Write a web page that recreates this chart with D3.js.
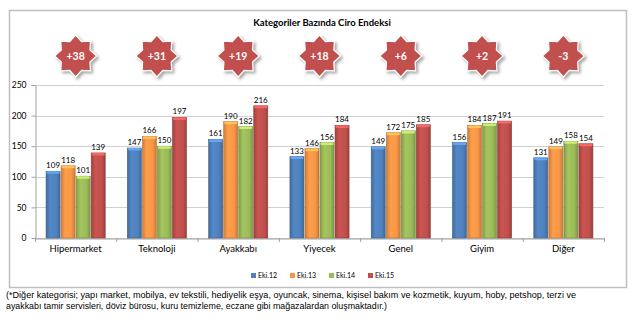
<!DOCTYPE html>
<html><head><meta charset="utf-8">
<script src="https://cdn.jsdelivr.net/npm/d3@7"></script>
<style>body{margin:0;background:#fff}svg{display:block}</style>
</head><body>
<svg id="c" width="640" height="322"></svg>
<script>
const categories = ["Hipermarket","Teknoloji","Ayakkabı","Yiyecek","Genel","Giyim","Diğer"];
const seriesNames = ["Eki.12","Eki.13","Eki.14","Eki.15"];
const eki12 = [109,147,161,133,149,156,131];
const eki13 = [118,166,190,146,172,184,149];
const eki14 = [101,150,182,156,175,187,158];
const eki15 = [139,197,216,184,185,191,154];
const changes = ["+38","+31","+19","+18","+6","+2","-3"];
const yTicks = [0,50,100,150,200,250];
const colors = ["#4f81bd","#f79646","#9bbb59","#c0504d"];
const title = "Kategoriler Bazında Ciro Endeksi";
const footnote = ["(*Diğer kategorisi; yapı market, mobilya, ev tekstili, hediyelik eşya, oyuncak, sinema, kişisel bakım ve kozmetik, kuyum, hoby, petshop, terzi ve",
                  "ayakkabı tamir servisleri, döviz bürosu, kuru temizleme, eczane gibi mağazalardan oluşmaktadır.)"];

const series = [eki12, eki13, eki14, eki15];
const svg = d3.select("#c");
const defs = svg.append("defs");

colors.forEach((c,i)=>{
  const g = defs.append("linearGradient").attr("id","g"+i).attr("x1","0").attr("x2","1").attr("y1","0").attr("y2","0");
  const base = d3.color(c);
  g.append("stop").attr("offset","0%").attr("stop-color", base.darker(0.5));
  g.append("stop").attr("offset","30%").attr("stop-color", base.brighter(0.15));
  g.append("stop").attr("offset","75%").attr("stop-color", base);
  g.append("stop").attr("offset","100%").attr("stop-color", base.darker(0.6));
});
const f = defs.append("filter").attr("id","glow").attr("x","-40%").attr("y","-40%").attr("width","180%").attr("height","180%");
f.append("feDropShadow").attr("dx",2).attr("dy",2).attr("stdDeviation",1.8).attr("flood-color","#888").attr("flood-opacity",0.75);

// frame
svg.append("rect").attr("x",9.5).attr("y",10.5).attr("width",617).attr("height",277)
  .attr("fill","#fff").attr("stroke","#bfbfbf").attr("stroke-width",1.5);

svg.append("text").attr("x",322).attr("y",26).attr("text-anchor","middle")
  .attr("font-family","Lato, 'Open Sans', sans-serif").attr("font-weight","bold").attr("font-size",9.5)
  .attr("fill","#000").text(title);

const x0 = d3.scaleBand().domain(categories).range([35,604]).paddingInner(0.26).paddingOuter(0.13);
const x1 = d3.scaleBand().domain(d3.range(4)).range([0,x0.bandwidth()]);
const y = d3.scaleLinear().domain([0,250]).range([238,85]);

// gridlines
svg.append("g").selectAll("line").data(yTicks).join("line")
  .attr("x1",35).attr("x2",604).attr("y1",d=>Math.round(y(d))+0.5).attr("y2",d=>Math.round(y(d))+0.5)
  .attr("stroke","#d0d0d0").attr("stroke-width",1);

// y axis
const ya = svg.append("g").attr("transform","translate(35.5,0)")
  .call(d3.axisLeft(y).tickValues(yTicks).tickSize(4).tickSizeOuter(0));
ya.select(".domain").attr("stroke","#a0a0a0");
ya.selectAll(".tick line").attr("stroke","#a0a0a0");
ya.selectAll("text").attr("font-family","Lato, 'Open Sans', sans-serif").attr("font-size",8.5).attr("fill","#000").attr("dx",-2);

// x axis
const step = x0.step();
const xa = svg.append("g").attr("transform",`translate(0,${Math.round(y(0))+0.5})`)
  .call(d3.axisBottom(x0).tickSize(0).tickSizeOuter(0));
xa.select(".domain").attr("stroke","#a0a0a0");
xa.selectAll("text").attr("font-family","Lato, 'Open Sans', sans-serif").attr("font-size",9.5).attr("fill","#000").attr("dy","1.15em");
svg.append("g").selectAll("line").data(d3.range(categories.length+1)).join("line")
  .attr("x1",i=>35.5+i*step).attr("x2",i=>35.5+i*step)
  .attr("y1",y(0)).attr("y2",y(0)+4).attr("stroke","#a0a0a0");

// bars
const groups = svg.append("g").selectAll("g").data(categories).join("g")
  .attr("transform",d=>`translate(${x0(d)},0)`);
groups.each(function(cat,ci){
  const g = d3.select(this);
  series.forEach((s,si)=>{
    const v = s[ci];
    const bx = x1(si), bw = x1.bandwidth();
    g.append("rect").attr("x",bx+0.5).attr("y",y(v)).attr("width",bw-1).attr("height",y(0)-y(v))
      .attr("fill",`url(#g${si})`).attr("stroke",d3.color(colors[si]).darker(0.8)).attr("stroke-width",0.6);
    g.append("rect").attr("x",bx+1).attr("y",y(v)).attr("width",bw-2).attr("height",2.5)
      .attr("fill",d3.color(colors[si]).brighter(0.7)).attr("rx",1);
    g.append("text").attr("x",bx+bw/2).attr("y",y(v)-3).attr("text-anchor","middle")
      .attr("font-family","Lato, 'Open Sans', sans-serif").attr("font-size",8).attr("fill","#000").text(v);
  });
});

// stars
function starPath(cx,cy,R,r,n){
  const pts=[];
  for(let i=0;i<2*n;i++){
    const a = -Math.PI/2 + i*Math.PI/n;
    const rad = i%2===0?R:r;
    pts.push([cx+rad*Math.cos(a), cy+rad*Math.sin(a)]);
  }
  return "M"+pts.map(p=>p.join(",")).join("L")+"Z";
}
const stars = svg.append("g").selectAll("g").data(categories).join("g");
stars.append("path").attr("d",d=>starPath(x0(d)+x0.bandwidth()/2,56,21,15.5,8))
  .attr("fill","#c0504d").attr("stroke","#fff").attr("stroke-width",1.2).attr("filter","url(#glow)");
stars.append("text").attr("x",d=>x0(d)+x0.bandwidth()/2).attr("y",60).attr("text-anchor","middle")
  .attr("font-family","Lato, 'Open Sans', sans-serif").attr("font-weight","bold").attr("font-size",10.5)
  .attr("fill","#fff").text((d,i)=>changes[i]);

// legend
const lg = svg.append("g").selectAll("g").data(seriesNames).join("g")
  .attr("transform",(d,i)=>`translate(${251+i*39},278)`);
lg.append("rect").attr("x",0).attr("y",-5).attr("width",5).attr("height",5).attr("fill",(d,i)=>colors[i]);
lg.append("text").attr("x",7).attr("y",0).attr("font-family","Lato, 'Open Sans', sans-serif").attr("font-size",7)
  .attr("fill","#000").text(d=>d);

// footnote
const fnLen = [570, 381];
svg.append("g").selectAll("text").data(footnote).join("text")
  .attr("x",6).attr("y",(d,i)=>298+i*11).attr("font-family","'Liberation Sans', Arial, sans-serif")
  .attr("font-size",9).attr("fill","#000")
  .attr("textLength",(d,i)=>fnLen[i]).attr("lengthAdjust","spacingAndGlyphs").text(d=>d);
</script>
</body></html>
